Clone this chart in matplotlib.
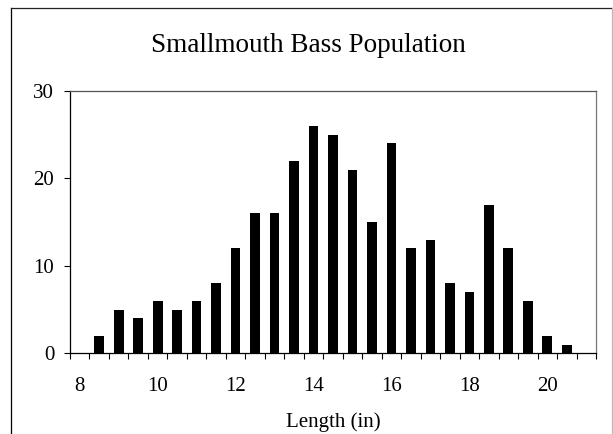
import matplotlib
matplotlib.use("Agg")
import matplotlib.pyplot as plt
from matplotlib.lines import Line2D
import numpy as np

# length classes (in) and number of fish in each
lengths = [8, 8.5, 9, 9.5, 10, 10.5, 11, 11.5, 12, 12.5, 13, 13.5, 14,
           14.5, 15, 15.5, 16, 16.5, 17, 17.5, 18, 18.5, 19, 19.5, 20, 20.5, 21]
counts = [0, 2, 5, 4, 6, 5, 6, 8, 12, 16, 16, 22, 26,
          25, 21, 15, 24, 12, 13, 8, 7, 17, 12, 6, 2, 1, 0]
label_lengths = [8, 10, 12, 14, 16, 18, 20]
y_ticks = [0, 10, 20, 30]

plt.rcParams["font.family"] = ["Liberation Serif", "DejaVu Serif"]

fig = plt.figure(figsize=(6.13, 4.34), dpi=100)
ax = fig.add_axes([70 / 613, 1 - 353.3 / 434, 526 / 613, (353.3 - 91) / 434])

pos = np.arange(len(lengths))
ax.bar(pos, counts, width=0.5, color="black", linewidth=0)

ax.set_xlim(-0.5, len(lengths) - 0.5)
ax.set_ylim(0, 30)

# category labels every 2 inches, tick marks between categories
ax.set_xticks([lengths.index(v) for v in label_lengths])
ax.set_xticklabels([str(v) for v in label_lengths])
ax.set_xticks(np.arange(len(lengths) + 1) - 0.5, minor=True)
ax.tick_params(axis="x", which="major", length=0, pad=17, labelsize=15)
ax.tick_params(axis="x", which="minor", direction="out", length=4.3, width=0.8)
ax.set_yticks(y_ticks)
ax.tick_params(axis="y", direction="out", length=4.3, width=0.8, pad=7, labelsize=15)

ax.spines["left"].set_linewidth(0.9)
ax.spines["bottom"].set_linewidth(0.9)
ax.spines["top"].set_color("#555555")
ax.spines["top"].set_linewidth(0.9)
ax.spines["right"].set_color("#777777")
ax.spines["right"].set_linewidth(0.9)

ax.set_xlabel("Length (in)", fontsize=15, labelpad=12)

fig.text(308 / 613, 1 - 45 / 434, "Smallmouth Bass Population",
         fontsize=19.5, ha="center", va="center")

# chart area border (bottom edge lies outside the picture)
x0, x1, yt = 11 / 613, 612 / 613, 1 - 8 / 434
fig.add_artist(Line2D([x0, x0], [-0.1, yt], color="black", lw=0.9, transform=fig.transFigure))
fig.add_artist(Line2D([x0, x1], [yt, yt], color="#222222", lw=0.9, transform=fig.transFigure))
fig.add_artist(Line2D([x1, x1], [yt, -0.1], color="#bbbbbb", lw=0.9, transform=fig.transFigure))

fig.savefig("out.png", dpi=100)
